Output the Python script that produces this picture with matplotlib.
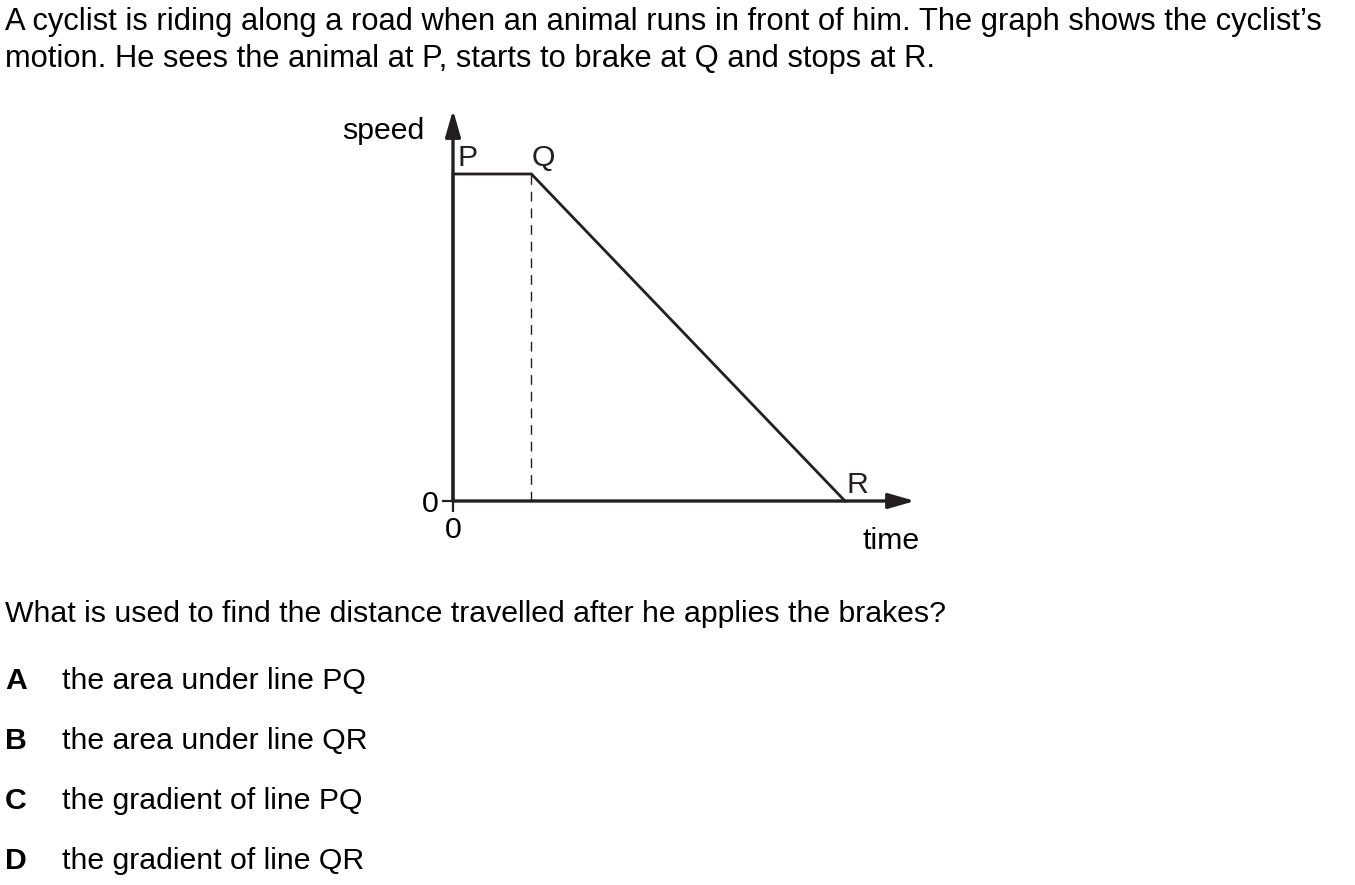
import matplotlib.pyplot as plt

plt.rcParams['font.family'] = ['Liberation Sans', 'DejaVu Sans']

# cyclist's motion: P -> Q at constant speed, Q -> R braking
times = [0, 0, 1, 5]
speeds = [0, 1, 1, 0]
points = ['P', 'Q', 'R']
point_t = [0, 1, 5]
point_v = [1, 1, 0]

intro = ["A cyclist is riding along a road when an animal runs in front of him. The graph shows the cyclist\u2019s",
         "motion. He sees the animal at P, starts to brake at Q and stops at R."]
question = "What is used to find the distance travelled after he applies the brakes?"
letters = ['A', 'B', 'C', 'D']
answers = ['the area under line PQ', 'the area under line QR',
           'the gradient of line PQ', 'the gradient of line QR']

W, H = 1355, 885
fig = plt.figure(figsize=(W / 100, H / 100), dpi=100)
ink = '#231f20'
fs = 21.8
fs_top = 22.2

def px(x, y):
    return x / W, 1 - y / H

# axes: origin at (453, 501) px
x0, y0, x1, y1 = 453, 501, 915, 110
ax = fig.add_axes([x0 / W, 1 - y0 / H, (x1 - x0) / W, (y0 - y1) / H])
tmax = (x1 - x0) / 78.4
vmax = (y0 - y1) / 327
ax.set_xlim(0, tmax)
ax.set_ylim(0, vmax)
for s in ax.spines.values():
    s.set_visible(False)
ax.set_xticks([0])
ax.set_yticks([0])
ax.tick_params(length=8, width=1.6, color=ink, labelsize=fs, pad=2, direction='out')
ax.tick_params(axis='x', pad=3)

arrow = dict(arrowstyle='-|>,head_length=0.8,head_width=0.23', lw=2.4, color=ink,
             shrinkA=0, shrinkB=0, mutation_scale=20)
ax.annotate('', xy=(0, vmax), xytext=(0, 0), arrowprops=arrow, annotation_clip=False)
ax.annotate('', xy=(tmax, 0), xytext=(0, 0), arrowprops=arrow, annotation_clip=False)

ax.plot(times, speeds, color=ink, lw=2.0, clip_on=False, solid_joinstyle='miter')
ax.plot([point_t[1], point_t[1]], [0, point_v[1]], color=ink, lw=1.0,
        dashes=(7, 5), clip_on=False)

offsets = [(15, 16), (12, 16), (12, 16)]
for name, t, v, (dx, dy) in zip(points, point_t, point_v, offsets):
    ax.annotate(name, (t, v), xytext=(dx, dy), textcoords='offset pixels',
                ha='center', va='center', fontsize=fs, color=ink)

fig.text(*px(424, 131), 'speed', ha='right', va='center', fontsize=fs)
fig.text(*px(891, 541), 'time', ha='center', va='center', fontsize=fs)

fig.text(*px(5, 22), intro[0], ha='left', va='center', fontsize=fs_top)
fig.text(*px(5, 59), intro[1], ha='left', va='center', fontsize=fs_top)
fig.text(*px(5, 614), question, ha='left', va='center', fontsize=fs)

for i, (l, a) in enumerate(zip(letters, answers)):
    yy = 681 + 60 * i
    fig.text(*px(5, yy), l, ha='left', va='center', fontsize=fs, fontweight='bold')
    fig.text(*px(62, yy), a, ha='left', va='center', fontsize=fs)

fig.savefig('out.png', dpi=100)
